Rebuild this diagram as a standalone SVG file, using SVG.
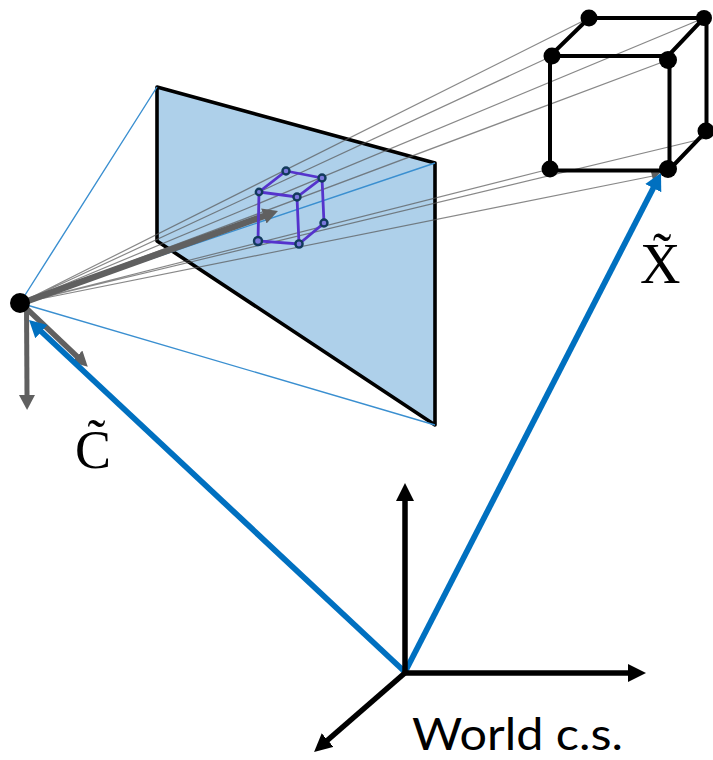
<svg xmlns="http://www.w3.org/2000/svg" width="713" height="760" viewBox="0 0 713 760">
<style>
.ray{stroke:#555;stroke-width:1.2;stroke-opacity:.7;fill:none}
.bray{stroke:#3a8fd0;stroke-width:1.4;fill:none}
.edge{stroke:#000;stroke-width:4;fill:none;stroke-linecap:round}
.sedge{stroke:#5533cc;stroke-width:2.8;fill:none;stroke-linecap:round}
.sv{fill:#7a78dc;stroke:#123a5c;stroke-width:2.4}
.serif{font-family:"Liberation Serif",serif;fill:#000}
</style>
<defs>
<marker id="blk" markerUnits="userSpaceOnUse" markerWidth="20" markerHeight="20" refX="1" refY="9" orient="auto"><path d="M0 0L18 9L0 18z" fill="#000"/></marker>
<marker id="blu" markerUnits="userSpaceOnUse" markerWidth="20" markerHeight="20" refX="1" refY="9" orient="auto"><path d="M0 0L17 9L0 18z" fill="#0070c0"/></marker>
<marker id="gry" markerUnits="userSpaceOnUse" markerWidth="20" markerHeight="20" refX="1" refY="8" orient="auto"><path d="M0 0L15 8L0 16z" fill="#606060"/></marker>
</defs>
<g id="image-plane"><path d="M157 87L435 163V425L157 241Z" fill="#aed0ea" stroke="#000" stroke-width="3.6" stroke-linejoin="round"/></g>
<g id="connectors">
<g>
<path class="bray" d="M20 303L157 87M20 303L435 163M20 303L435 425"/>
<path class="ray" d="M20 303L589 18M20 303L552 56M20 303L704 18M20 303L668 60M20 303L550 169M20 303L706 138M20 303L653 176"/>
<path d="M651 172L662 171L653 180z" fill="#606060"/>
</g>
<g stroke-linecap="butt" fill="none">
<path d="M26.500 303L27 396" stroke="#606060" stroke-width="5" marker-end="url(#gry)"/>
<path d="M26 308L77.600 357" stroke="#606060" stroke-width="5.500" marker-end="url(#gry)"/>
<path d="M22 303L264.800 215.700" stroke="#606060" stroke-width="6.500" marker-end="url(#gry)"/>
<path d="M405 672L40.700 331" stroke="#0070c0" stroke-width="5.800" marker-end="url(#blu)"/>
<path d="M405 672L653.700 187.200" stroke="#0070c0" stroke-width="5.800" marker-end="url(#blu)"/>
<path d="M405 675V500" stroke="#000" stroke-width="5.500" marker-end="url(#blk)"/>
<path d="M403 673H629" stroke="#000" stroke-width="5.500" marker-end="url(#blk)"/>
<path d="M406 672L326.900 740.800" stroke="#000" stroke-width="5.500" marker-end="url(#blk)"/>
</g>
</g>
<g id="camera"><circle cx="20" cy="303" r="10" fill="#000"/></g>
<g id="image-cube">
<path class="sedge" d="M286 171L322 178L297 197L259 192ZM259 192L258 241L299 244L297 197M322 178L324 223L299 244"/>
<circle class="sv" cx="286" cy="171" r="3.500"/><circle class="sv" cx="322" cy="178" r="3.500"/><circle class="sv" cx="259" cy="192" r="3.200"/><circle class="sv" cx="297" cy="197" r="3.500"/><circle class="sv" cx="324" cy="223" r="3.500"/><circle class="sv" cx="258" cy="241" r="4"/><circle class="sv" cx="299" cy="244" r="3.600"/>
</g>
<g id="world-cube">
<path class="edge" d="M589 18H704L668 56H550ZM550 56V170.500H669.500V56M704 18H706.500V131L669 170"/>
<g fill="#000"><circle cx="589" cy="18" r="8.500"/><circle cx="704" cy="18" r="8"/><circle cx="552" cy="56" r="8.500"/><circle cx="668" cy="60" r="9"/><circle cx="706" cy="131" r="8.500"/><circle cx="550" cy="169" r="8.500"/><circle cx="668" cy="169" r="9"/></g>
</g>
<g id="label-c"><text class="serif" x="75" y="468" font-size="54">C̃</text></g>
<g id="label-x"><text class="serif" x="640" y="283" font-size="56">X̃</text></g>
<g id="label-world"><text x="412" y="750" font-family="Lato,sans-serif" font-size="44" textLength="211" lengthAdjust="spacingAndGlyphs">World c.s.</text></g>
</svg>
